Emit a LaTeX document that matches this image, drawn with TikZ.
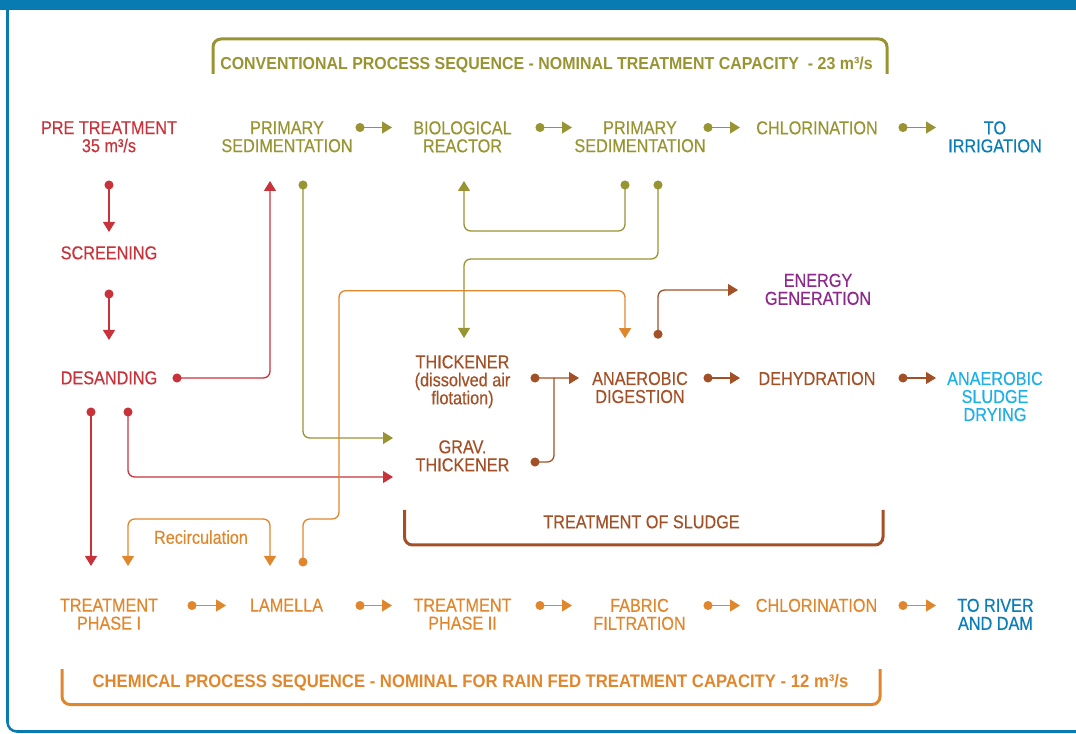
\documentclass[tikz,border=0pt]{standalone}
\usepackage{fontspec}
\setmainfont{Liberation Sans}[FakeStretch=0.87, FakeBold=0.4]
\newfontfamily\ttlfam{Liberation Sans}[FakeStretch=0.92]
\usetikzlibrary{arrows.meta,calc}

\definecolor{frameblue}{RGB}{8,124,178}
\definecolor{seqred}{RGB}{200,50,58}
\definecolor{seqolive}{RGB}{152,148,50}
\definecolor{seqorange}{RGB}{224,135,45}
\definecolor{sludgebrown}{RGB}{163,80,38}
\definecolor{energypurple}{RGB}{142,40,140}
\definecolor{outblue}{RGB}{10,125,185}
\definecolor{dryblue}{RGB}{30,175,230}

\begin{document}
\begin{tikzpicture}[
    x=0.75pt, y=-0.75pt,
    lbl/.style={anchor=north, inner sep=0pt, align=center, font=\fontsize{14pt}{13.5pt}\selectfont},
    ttl/.style={anchor=north, inner sep=0pt, font=\ttlfam\bfseries\fontsize{13pt}{13pt}\selectfont},
    flow/.style={line width=1pt, rounded corners=5pt, {Circle[length=6.75pt]}-{Triangle[length=7.5pt,width=9pt]}},
    twoway/.style={line width=1pt, rounded corners=5pt, {Triangle[length=7.5pt,width=9pt]}-{Triangle[length=7.5pt,width=9pt]}},
    merge/.style={line width=1pt, rounded corners=5pt, {Circle[length=6.75pt]}-},
    bracket/.style={line width=2.25pt, rounded corners=6pt}
]
    \useasboundingbox (0,0) rectangle (1076,734);

    % frame
    \fill[frameblue] (0,0) rectangle (1076,10.5);
    \draw[frameblue, line width=1.9pt, rounded corners=7pt] (7.5,5) -- (7.5,731.5) -- (1080,731.5);

    % section brackets
    \draw[bracket, seqolive] (213,74) -- (213,39) -- (887,39) -- (887,74);
    \draw[bracket, sludgebrown] (404.5,510) -- (404.5,545) -- (883,545) -- (883,510);
    \draw[bracket, seqorange] (62,669) -- (62,704.5) -- (880,704.5) -- (880,669);

    \node[ttl, seqolive] (convtitle) at (546.5,56.7) {CONVENTIONAL PROCESS SEQUENCE - NOMINAL TREATMENT CAPACITY\ \ - 23 m³/s};
    \node[ttl, seqorange, font=\ttlfam\bfseries\fontsize{13.6pt}{13.6pt}\selectfont] (chemtitle) at (470.5,674) {CHEMICAL PROCESS SEQUENCE - NOMINAL FOR RAIN FED TREATMENT CAPACITY - 12 m³/s};
    \node[lbl, sludgebrown] (sludge) at (641.5,515) {TREATMENT OF SLUDGE};

    % conventional line
    \node[lbl, seqred] (pre) at (109,121) {PRE TREATMENT\\35 m³/s};
    \node[lbl, seqolive] (pri1) at (287,121) {PRIMARY\\SEDIMENTATION};
    \node[lbl, seqolive] (bio) at (462.5,121) {BIOLOGICAL\\REACTOR};
    \node[lbl, seqolive] (pri2) at (640,121) {PRIMARY\\SEDIMENTATION};
    \node[lbl, seqolive] (chl1) at (817,121) {CHLORINATION};
    \node[lbl, outblue] (irr) at (995,121) {TO\\IRRIGATION};

    \node[lbl, seqred] (screen) at (109,246) {SCREENING};
    \node[lbl, seqred] (desand) at (109,371) {DESANDING};

    % sludge line
    \node[lbl, energypurple] (energy) at (818,273.5) {ENERGY\\GENERATION};
    \node[lbl, sludgebrown] (thick) at (462.5,355) {THICKENER\\(dissolved air\\flotation)};
    \node[lbl, sludgebrown] (anad) at (640,371.7) {ANAEROBIC\\DIGESTION};
    \node[lbl, sludgebrown] (dehyd) at (817,371.7) {DEHYDRATION};
    \node[lbl, dryblue] (dry) at (995,371.7) {ANAEROBIC\\SLUDGE\\DRYING};
    \node[lbl, sludgebrown] (grav) at (462.5,440) {GRAV.\\THICKENER};

    % chemical line
    \node[lbl, seqorange] (recirc) at (201,530) {Recirculation};
    \node[lbl, seqorange] (ph1) at (109,598.5) {TREATMENT\\PHASE I};
    \node[lbl, seqorange] (lam) at (286.5,598.5) {LAMELLA};
    \node[lbl, seqorange] (ph2) at (462.5,598.5) {TREATMENT\\PHASE II};
    \node[lbl, seqorange] (fab) at (639.5,598.5) {FABRIC\\FILTRATION};
    \node[lbl, seqorange] (chl2) at (816.5,598.5) {CHLORINATION};
    \node[lbl, outblue] (river) at (995.5,598.5) {TO RIVER\\AND DAM};

    % pre treatment
    \draw[flow, seqred] ($(pre.north)+(0,59.5)$) -- ($(screen.north)+(0,-14)$);
    \draw[flow, seqred] ($(screen.north)+(0,43.5)$) -- ($(desand.north)+(0,-31)$);
    \draw[flow, seqred] ($(desand.north)+(63.5,7)$) -| ($(pri1.north)+(-17,60)$);
    \draw[flow, seqred] ($(desand.north)+(19,36.5)$) |- ($(grav.north)+(-69.5,37)$);
    \draw[flow, seqred] ($(desand.north)+(-18,36.5)$) -- ($(ph1.north)+(-18,-32.5)$);

    % conventional sequence
    \draw[flow, seqolive] ($(pri1.north)+(68.5,6.5)$) -- ($(bio.north)+(-70.5,6.5)$);
    \draw[flow, seqolive] ($(bio.north)+(73,6.5)$) -- ($(pri2.north)+(-68,6.5)$);
    \draw[flow, seqolive] ($(pri2.north)+(63.5,6.5)$) -- ($(chl1.north)+(-77,6.5)$);
    \draw[flow, seqolive] ($(chl1.north)+(81.5,6.5)$) -- ($(irr.north)+(-59,6.5)$);
    \draw[flow, seqolive] ($(pri1.north)+(16,59.5)$) |- ($(grav.north)+(-69.5,-2)$);
    \draw[flow, seqolive] ($(pri2.north)+(-15,59.5)$) |- ($(bio.north)+(1.5,110)$) -- ($(bio.north)+(1.5,60)$);
    \draw[flow, seqolive] ($(pri2.north)+(18,59.5)$) |- ($(thick.north)+(1.5,-96)$) -- ($(thick.north)+(1.5,-17)$);

    % sludge treatment
    \draw[flow, sludgebrown] ($(thick.north)+(68,23)$) -- ($(anad.north)+(-61,6.3)$);
    \draw[merge, sludgebrown] ($(grav.north)+(68,22)$) -| ($(anad.north)+(-86,6.3)$);
    \draw[flow, sludgebrown] ($(anad.north)+(18,-33)$) |- ($(energy.north)+(-80,16.5)$);
    \draw[flow, sludgebrown] ($(anad.north)+(63.5,6.3)$) -- ($(dehyd.north)+(-77,6.3)$);
    \draw[flow, sludgebrown] ($(dehyd.north)+(81.5,6.3)$) -- ($(dry.north)+(-59,6.3)$);

    % chemical sequence
    \draw[twoway, seqorange] ($(ph1.north)+(19,-32.5)$) |- ($(recirc.north)+(0,-11)$) -| ($(lam.north)+(-16.5,-32.5)$);
    \draw[flow, seqorange] ($(lam.north)+(16.5,-32)$) -- ($(lam.north)+(16.5,-79.5)$) -- ($(lam.north)+(52.5,-79.5)$) |- ($(anad.north)+(-15,-81)$) -- ($(anad.north)+(-15,-33.5)$);
    \draw[flow, seqorange] ($(ph1.north)+(78.5,7)$) -- ($(lam.north)+(-60.5,7)$);
    \draw[flow, seqorange] ($(lam.north)+(69,7)$) -- ($(ph2.north)+(-70.5,7)$);
    \draw[flow, seqorange] ($(ph2.north)+(73,7)$) -- ($(fab.north)+(-67.5,7)$);
    \draw[flow, seqorange] ($(fab.north)+(64,7)$) -- ($(chl2.north)+(-76.5,7)$);
    \draw[flow, seqorange] ($(chl2.north)+(82,7)$) -- ($(river.north)+(-59.5,7)$);
\end{tikzpicture}
\end{document}
